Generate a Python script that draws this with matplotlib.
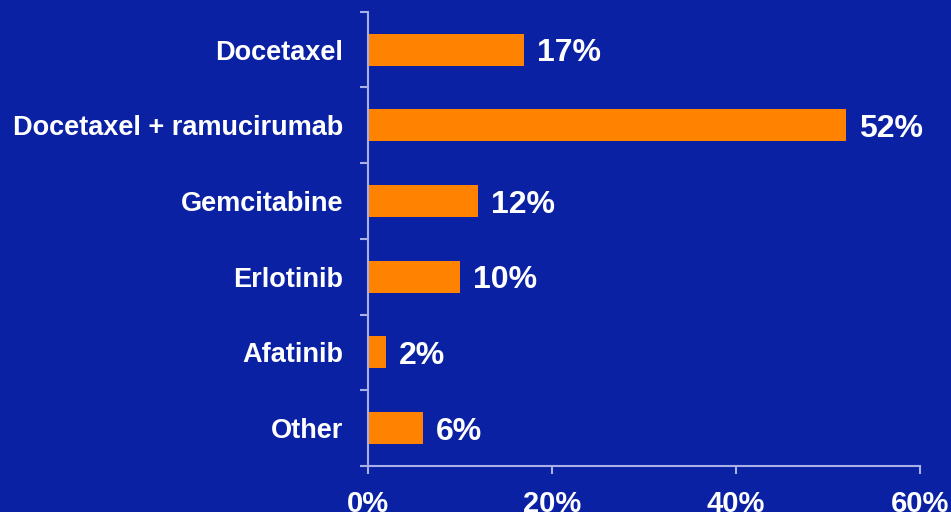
"""Second-line treatment shares, horizontal bar chart."""

import matplotlib.pyplot as plt
from matplotlib.ticker import FixedLocator, PercentFormatter

TREATMENTS = [
    "Docetaxel",
    "Docetaxel + ramucirumab",
    "Gemcitabine",
    "Erlotinib",
    "Afatinib",
    "Other",
]
SHARES = [17, 52, 12, 10, 2, 6]
X_TICKS = [0, 20, 40, 60]

BG = "#0b21a4"
BAR = "#ff8200"
AXIS = "#a9b0e8"
TEXT = "#ffffff"

plt.rcParams["font.family"] = ["Liberation Sans", "DejaVu Sans"]
plt.rcParams["font.weight"] = "bold"

fig = plt.figure(figsize=(9.51, 5.12), dpi=100, facecolor=BG)
ax = fig.add_axes([0.387, 0.090, 0.580, 0.887], facecolor=BG)

y = list(range(len(TREATMENTS)))
bars = ax.barh(y, SHARES, height=0.42, color=BAR, edgecolor="none")
for rect, val in zip(bars, SHARES):
    ax.text(
        rect.get_width() + 1.4,
        rect.get_y() + rect.get_height() / 2,
        f"{val}%",
        va="center_baseline",
        ha="left",
        color=TEXT,
        fontsize=23,
        fontweight="bold",
    )

ax.set_ylim(len(TREATMENTS) - 0.5, -0.5)
ax.set_xlim(0, 60)

ax.set_yticks(y)
ax.set_yticklabels(TREATMENTS, fontsize=19.5, fontweight="bold", color=TEXT)
ax.tick_params(axis="y", which="major", length=0, pad=18)
ax.yaxis.set_minor_locator(FixedLocator([i - 0.5 for i in range(len(TREATMENTS) + 1)]))
ax.tick_params(axis="y", which="minor", length=6, width=1.5, color=AXIS, direction="out")

ax.set_xticks(X_TICKS)
ax.xaxis.set_major_formatter(PercentFormatter(decimals=0))
ax.tick_params(axis="x", length=6, width=1.5, color=AXIS, pad=11, labelsize=21, labelcolor=TEXT)
for lab in ax.get_xticklabels():
    lab.set_fontweight("bold")

for side in ("top", "right"):
    ax.spines[side].set_visible(False)
for side in ("left", "bottom"):
    ax.spines[side].set_color(AXIS)
    ax.spines[side].set_linewidth(1.5)

fig.savefig("out.png", dpi=100, facecolor=BG)
